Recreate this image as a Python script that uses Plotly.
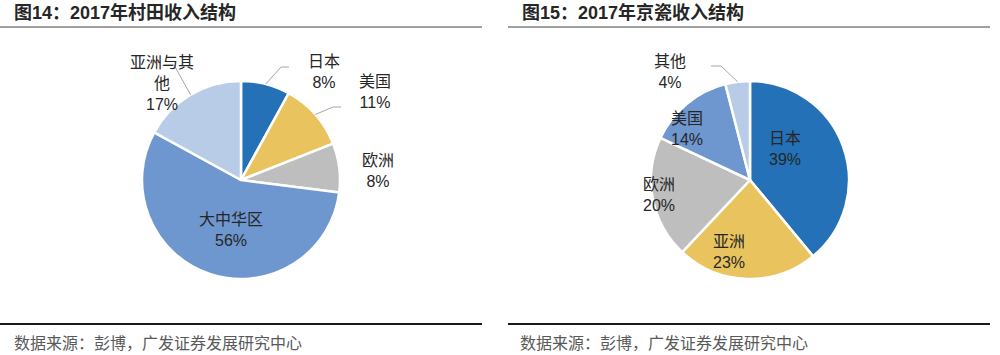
import math
import plotly.graph_objects as go

W, H = 1000, 355

# ---- data ----
left_title = "图14：2017年村田收入结构"
left_labels = ["日本", "美国", "欧洲", "大中华区", "亚洲与其他"]
left_values = [8, 11, 8, 56, 17]
left_text = ["日本<br>8%", "美国<br>11%", "欧洲<br>8%", "大中华区<br>56%", "亚洲与其<br>他<br>17%"]

right_title = "图15：2017年京瓷收入结构"
right_labels = ["日本", "亚洲", "欧洲", "美国", "其他"]
right_values = [39, 23, 20, 14, 4]
right_text = ["日本<br>39%", "亚洲<br>23%", "欧洲<br>20%", "美国<br>14%", "其他<br>4%"]

source_text = "数据来源：彭博，广发证券发展研究中心"

# ---- style / layout config ----
left_colors = ["#2471B8", "#E9C45E", "#BEBEBE", "#6E96CF", "#B9CCE7"]
right_colors = ["#2471B8", "#E9C45E", "#BEBEBE", "#6E96CF", "#B9CCE7"]
R = 99
left_center = (241, 180)
right_center = (750, 180)
# label offsets (px) from pie centre
left_label_off = [(65, -108), (116, -88), (119, -9), (-44, 50), (-113, -97)]
right_label_off = [(53, -31), (-3, 72), (-73, 15), (-45, -51), (-62, -108)]
# leader lines: slice index -> (elbow px, end px) absolute
left_leaders = {0: ((281, 67), (289, 67)), 1: ((333, 107), (341, 107)), 4: ((174, 65), (164, 65))}
right_leaders = {4: ((721, 66), (711, 66))}

FONT = "Liberation Sans, Arial, Noto Sans CJK SC, sans-serif"


def px2paper(x, y):
    return x / W, 1 - y / H


fig = go.Figure()
annotations = []
shapes = []


def add_pie(values, labels, colors, center, texts, offs, leaders):
    cx, cy = center
    x0, y0 = px2paper(cx - R, cy + R)
    x1, y1 = px2paper(cx + R, cy - R)
    fig.add_trace(go.Pie(
        values=values, labels=labels, sort=False, direction="clockwise", rotation=0,
        marker=dict(colors=colors, line=dict(color="white", width=2.5)),
        textinfo="none", hoverinfo="label+percent", showlegend=False,
        domain=dict(x=[x0, x1], y=[y0, y1]),
    ))
    total = sum(values)
    ax, ay = px2paper(cx, cy)
    cum = 0
    for i, v in enumerate(values):
        mid = (cum + v / 2) / total * 2 * math.pi
        cum += v
        dx, dy = offs[i]
        annotations.append(dict(
            x=ax, y=ay, xref="paper", yref="paper", xshift=dx, yshift=-dy,
            text=texts[i], showarrow=False, align="center",
            font=dict(family=FONT, size=16, color="#262626"),
        ))
        if i in leaders:
            ex, ey = cx + R * math.sin(mid), cy - R * math.cos(mid)
            (bx, by), (tx, ty) = leaders[i]
            p = [px2paper(ex, ey), px2paper(bx, by), px2paper(tx, ty)]
            path = "M {} {} L {} {} L {} {}".format(p[0][0], p[0][1], p[1][0], p[1][1], p[2][0], p[2][1])
            shapes.append(dict(type="path", xref="paper", yref="paper", path=path,
                               line=dict(color="#A6A6A6", width=1)))


add_pie(left_values, left_labels, left_colors, left_center, left_text, left_label_off, left_leaders)
add_pie(right_values, right_labels, right_colors, right_center, right_text, right_label_off, right_leaders)

# titles
for x_px, t in [(12, left_title), (520, right_title)]:
    x, y = px2paper(x_px, 13)
    annotations.append(dict(x=x, y=y, xref="paper", yref="paper", xanchor="left", yanchor="middle",
                            text="<b>" + t + "</b>", showarrow=False,
                            font=dict(family=FONT, size=18, color="#262626")))
# sources
for x_px in [12, 518]:
    x, y = px2paper(x_px, 342)
    annotations.append(dict(x=x, y=y, xref="paper", yref="paper", xanchor="left", yanchor="middle",
                            text=source_text, showarrow=False,
                            font=dict(family="Noto Sans CJK SC, sans-serif", size=16, color="#595959")))

# rule lines
for (a, b) in [(0, 482), (508, 990)]:
    xa, ya = px2paper(a, 27)
    xb, _ = px2paper(b, 27)
    shapes.append(dict(type="line", xref="paper", yref="paper", x0=xa, x1=xb, y0=ya, y1=ya,
                       line=dict(color="#808080", width=1.5)))
    xa, ya = px2paper(a, 324)
    xb, _ = px2paper(b, 324)
    shapes.append(dict(type="line", xref="paper", yref="paper", x0=xa, x1=xb, y0=ya, y1=ya,
                       line=dict(color="#1a1a1a", width=2)))

fig.update_layout(
    width=W, height=H, margin=dict(l=0, r=0, t=0, b=0),
    paper_bgcolor="white", plot_bgcolor="white",
    annotations=annotations, shapes=shapes,
)

fig.write_html("out.html")
